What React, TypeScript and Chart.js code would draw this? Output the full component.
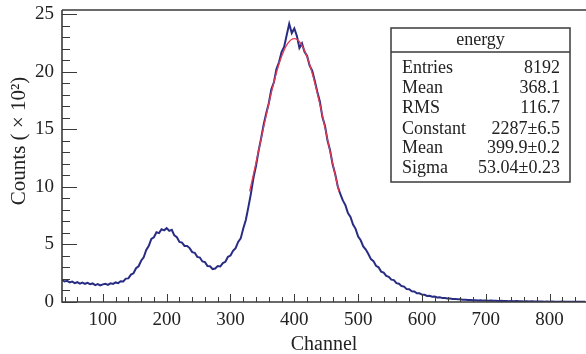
import React, { useEffect, useRef } from "react";
import { Chart, registerables } from "chart.js";

Chart.register(...registerables);

// Histogram: bins of 4 channels, starting at channel 36
const CH_START = 36;
const CH_STEP = 4;
const counts = [
  1.92, 1.78, 1.84, 1.70, 1.77, 1.64, 1.72, 1.60, 1.69, 1.58,
  1.66, 1.55, 1.61, 1.47, 1.56, 1.44, 1.53, 1.58, 1.49, 1.62,
  1.57, 1.70, 1.64, 1.80, 1.79, 2.03, 2.05, 2.38, 2.49, 2.93,
  3.10, 3.58, 3.88, 4.52, 4.88, 5.47, 5.62, 6.05, 5.98, 6.32,
  6.22, 6.41, 6.18, 6.27, 5.78, 5.62, 5.21, 5.16, 4.87, 4.86,
  4.68, 4.33, 4.27, 3.92, 3.86, 3.52, 3.46, 3.12, 3.10, 2.86,
  2.91, 3.12, 3.08, 3.38, 3.49, 3.93, 4.03, 4.44, 4.68, 5.21,
  5.52, 6.38, 7.12, 8.24, 9.41, 10.78, 11.83, 13.12, 14.21, 15.42,
  16.38, 17.25, 18.46, 19.08, 20.22, 20.81, 21.70, 22.15, 23.15, 24.15,
  23.35, 23.75, 23.10, 22.05, 22.45, 21.72, 21.36, 20.52, 20.08, 19.21,
  18.25, 17.40, 16.05, 15.31, 14.02, 13.17, 11.95, 11.12, 10.05, 9.38,
  8.82, 8.41, 7.72, 7.38, 6.73, 6.35, 5.68, 5.36, 4.83, 4.55,
  4.16, 3.72, 3.55, 3.14, 3.01, 2.64, 2.55, 2.26, 2.19, 1.94,
  1.90, 1.64, 1.59, 1.38, 1.34, 1.12, 1.10, 0.93, 0.91, 0.76,
  0.75, 0.64, 0.63, 0.53, 0.54, 0.46, 0.47, 0.40, 0.41, 0.34,
  0.35, 0.31, 0.31, 0.27, 0.27, 0.23, 0.23, 0.19, 0.20, 0.17,
  0.18, 0.15, 0.16, 0.13, 0.15, 0.12, 0.13, 0.11, 0.12, 0.10,
  0.11, 0.09, 0.10, 0.08, 0.09, 0.07, 0.09, 0.06, 0.08, 0.06,
  0.07, 0.05, 0.06, 0.04, 0.06, 0.04, 0.05, 0.04, 0.05, 0.03,
  0.04, 0.03, 0.04, 0.03, 0.03, 0.02, 0.04, 0.02, 0.03, 0.02,
  0.03, 0.02, 0.03, 0.02, 0.02, 0.03,
];

// Gaussian fit curve
const fitChannels = [330, 340, 350, 360, 370, 380, 390, 400, 410, 420, 430, 440, 450, 460, 470];
const fitValues = [9.6, 12.09, 14.69, 17.23, 19.51, 21.31, 22.47, 22.87, 22.46, 21.29, 19.47, 17.18, 14.64, 12.04, 9.55];

const xTickValues = [100, 200, 300, 400, 500, 600, 700, 800];
const yTickValues = [0, 5, 10, 15, 20, 25];

const statsTitle = "energy";
const statsLabels = ["Entries", "Mean", "RMS", "Constant", "Mean", "Sigma"];
const statsValues = ["8192", "368.1", "116.7", "2287±6.5", "399.9±0.2", "53.04±0.23"];

const xTitle = "Channel";
const yTitle = "Counts ( × 10²)";

const FONT = '"Liberation Serif", "Times New Roman", serif';
const INK = "#222";

const decorPlugin = {
  id: "decor",
  afterDatasetsDraw(chart: any) {
    const { ctx, chartArea: a, scales } = chart;
    const x = scales.x;
    const y = scales.y;
    ctx.save();
    ctx.strokeStyle = "#3a3a3a";
    ctx.lineWidth = 1.6;
    ctx.beginPath();
    ctx.moveTo(a.left, a.top);
    ctx.lineTo(a.right, a.top);
    ctx.moveTo(a.left, a.top);
    ctx.lineTo(a.left, a.bottom);
    ctx.lineTo(a.right, a.bottom);
    ctx.stroke();
    ctx.lineWidth = 1;
    ctx.beginPath();
    for (let v = 40; v <= x.max; v += 20) {
      const px = Math.round(x.getPixelForValue(v)) + 0.5;
      const len = v % 100 === 0 ? 8 : 5;
      ctx.moveTo(px, a.bottom);
      ctx.lineTo(px, a.bottom - len);
    }
    for (let v = 0; v <= y.max; v += 1) {
      const py = Math.round(y.getPixelForValue(v)) + 0.5;
      const len = v % 5 === 0 ? 15 : 8;
      ctx.moveTo(a.left, py);
      ctx.lineTo(a.left + len, py);
    }
    ctx.stroke();
    ctx.restore();
  },
  afterDraw(chart: any) {
    const { ctx } = chart;
    ctx.save();
    ctx.fillStyle = INK;
    ctx.font = `20px ${FONT}`;
    ctx.textAlign = "center";
    ctx.textBaseline = "alphabetic";
    ctx.fillText(xTitle, 324, 350);
    ctx.save();
    ctx.translate(25, 141);
    ctx.rotate(-Math.PI / 2);
    ctx.font = `21px ${FONT}`;
    ctx.fillText(yTitle, 0, 0);
    ctx.restore();

    const bx = 391, by = 28, bw = 179, bh = 154;
    ctx.fillStyle = "#fff";
    ctx.fillRect(bx, by, bw, bh);
    ctx.strokeStyle = "#3a3a3a";
    ctx.lineWidth = 1.5;
    ctx.strokeRect(bx, by, bw, bh);
    ctx.beginPath();
    ctx.moveTo(bx, 52);
    ctx.lineTo(bx + bw, 52);
    ctx.stroke();
    ctx.fillStyle = INK;
    ctx.font = `18px ${FONT}`;
    ctx.textAlign = "center";
    ctx.fillText(statsTitle, bx + bw / 2, 45);
    const baselines = [73, 93, 113, 134, 153, 173];
    statsLabels.forEach((lab, i) => {
      ctx.textAlign = "left";
      ctx.fillText(lab, 402, baselines[i]);
      ctx.textAlign = "right";
      ctx.fillText(statsValues[i], 560, baselines[i]);
    });
    ctx.restore();
  },
};

export default function App() {
  const ref = useRef<HTMLCanvasElement | null>(null);
  useEffect(() => {
    const histData = counts.map((v, i) => ({ x: CH_START + CH_STEP * i, y: v }));
    const fitData = fitChannels.map((c, i) => ({ x: c, y: fitValues[i] }));
    const chart = new Chart(ref.current as HTMLCanvasElement, {
      type: "line",
      data: {
        datasets: [
          {
            label: "energy",
            data: histData,
            borderColor: "rgb(40,44,130)",
            borderWidth: 2,
            pointRadius: 0,
            fill: false,
            order: 2,
          },
          {
            label: "fit",
            data: fitData,
            borderColor: "rgb(225,60,85)",
            borderWidth: 1.3,
            pointRadius: 0,
            cubicInterpolationMode: "monotone",
            fill: false,
            order: 1,
          },
        ],
      },
      options: {
        responsive: false,
        animation: false,
        layout: { padding: { top: 10, right: 0, bottom: 0, left: 0 } },
        plugins: { legend: { display: false }, tooltip: { enabled: false }, title: { display: false } },
        scales: {
          x: {
            type: "linear",
            min: 36,
            max: 857,
            grid: { display: false, drawTicks: false },
            border: { display: false },
            afterBuildTicks: (s: any) => {
              s.ticks = xTickValues.map((v) => ({ value: v }));
            },
            afterFit: (s: any) => {
              s.height = 52;
              s.paddingLeft = 0;
              s.paddingRight = 0;
            },
            ticks: {
              padding: 7,
              maxRotation: 0,
              autoSkip: false,
              color: INK,
              font: { family: FONT, size: 19 },
            },
          },
          y: {
            type: "linear",
            min: 0,
            max: 25.35,
            grid: { display: false, drawTicks: false },
            border: { display: false },
            afterBuildTicks: (s: any) => {
              s.ticks = yTickValues.map((v) => ({ value: v }));
            },
            afterFit: (s: any) => {
              s.width = 62;
              s.paddingTop = 0;
              s.paddingBottom = 0;
            },
            ticks: {
              padding: 8,
              autoSkip: false,
              color: INK,
              font: { family: FONT, size: 19 },
            },
          },
        },
      },
      plugins: [decorPlugin],
    } as any);
    return () => chart.destroy();
  }, []);
  return (
    <div style={{ position: "fixed", left: 0, top: 0, width: 586, height: 354, background: "#fff" }}>
      <canvas ref={ref} width={586} height={354} style={{ display: "block" }} />
    </div>
  );
}
